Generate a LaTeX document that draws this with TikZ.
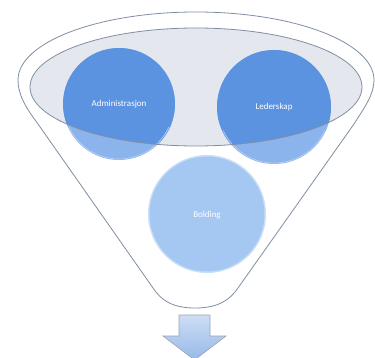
\documentclass[tikz,border=0pt]{standalone}
\usepackage{fontspec}
\setmainfont{Carlito}
\definecolor{rim}{RGB}{128,142,162}
\definecolor{band}{RGB}{228,231,238}
\definecolor{bluedark}{RGB}{92,147,225}
\definecolor{bluelight}{RGB}{140,180,236}
\definecolor{bluepale}{RGB}{165,200,242}
\definecolor{arrowtop}{RGB}{206,222,245}
\definecolor{arrowbot}{RGB}{150,185,232}
\tikzset{
  funnelline/.style={draw=rim, line width=0.8pt},
  label/.style={circle, inner sep=0pt, text=white, font=\fontsize{9}{10}\selectfont},
}
\begin{document}
\begin{tikzpicture}[x=1pt,y=-1pt]
\useasboundingbox[fill=white] (0,0) rectangle (375,358);
% inner band
\fill[band] (196,87) ellipse[x radius=166, y radius=59];
% circles (light part)
\fill[bluelight] (119,104) circle[radius=56];
\fill[bluelight] (274,107) circle[radius=57];
\begin{scope}
  \clip (196,87) ellipse[x radius=166, y radius=59];
  \fill[bluedark] (119,104) circle[radius=56];
  \fill[bluedark] (274,107) circle[radius=57];
\end{scope}
\draw[white!55!bluedark, line width=0.7pt] (119,104) ++(155:55) arc[start angle=155, end angle=25, radius=55];
\draw[white!55!bluedark, line width=0.7pt] (274,107) ++(155:56) arc[start angle=155, end angle=25, radius=56];
% bottom circle
\fill[bluepale!60!white] (207,214) circle[radius=59];
\fill[bluepale] (207,214) circle[radius=57.5];
% band outline
\draw[funnelline] (196,87) ellipse[x radius=166, y radius=59];
% funnel outline
\draw[funnelline] (374,80) arc[start angle=0, end angle=-180, x radius=178, y radius=68]
  .. controls (18,95) and (26,108) .. (38,124) -- (153,288)
  .. controls (161,300) and (172,308) .. (195,308)
  .. controls (218,308) and (230,300) .. (238,288) -- (354,124)
  .. controls (364,108) and (374,95) .. (374,80);
% text nodes
\node[label, minimum size=112pt] (adm) at (119,104) {Administrasjon};
\node[label, minimum size=114pt] (led) at (274,107) {Lederskap};
\node[label, minimum size=116pt] (bol) at (207,215) {Bolding};
% down arrow
\draw[draw=rim!80, line width=0.6pt, top color=arrowtop, bottom color=arrowbot]
  (179,315) -- (210,315) -- (210,336) -- (226,336) -- (194.5,360) -- (163,336) -- (179,336) -- cycle;
\end{tikzpicture}
\end{document}
